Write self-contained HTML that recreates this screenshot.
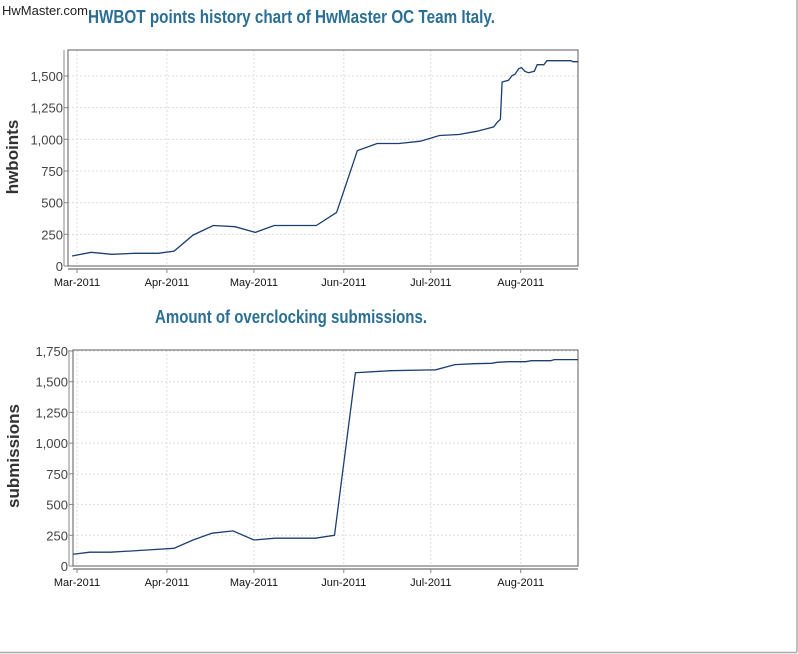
<!DOCTYPE html>
<html><head><meta charset="utf-8"><style>
html,body{margin:0;padding:0;background:#fff;}
#wrap{position:relative;width:798px;height:654px;overflow:hidden;font-family:"Liberation Sans",sans-serif;}
svg text{font-family:"Liberation Sans",sans-serif;}
</style></head><body>
<div id="wrap">
<svg id="svg" width="798" height="654" viewBox="0 0 798 654" xmlns="http://www.w3.org/2000/svg">
<line x1="797" y1="0" x2="797" y2="652" stroke="#aaa" stroke-width="1.5"/>
<line x1="0" y1="652.5" x2="797" y2="652.5" stroke="#aaa" stroke-width="1.5"/>
<text x="88" y="23" textLength="407" lengthAdjust="spacingAndGlyphs" font-size="18" font-weight="bold" fill="#2b6f94">HWBOT points history chart of HwMaster OC Team Italy.</text>
<text x="155" y="323" textLength="272" lengthAdjust="spacingAndGlyphs" font-size="18" font-weight="bold" fill="#2b6f94">Amount of overclocking submissions.</text>
<text x="2" y="15" textLength="86" lengthAdjust="spacingAndGlyphs" font-size="13" fill="#222">HwMaster.com</text>
<text transform="translate(18,157) rotate(-90)" text-anchor="middle" font-size="17" font-weight="bold" fill="#333">hwboints</text>
<text transform="translate(19,456) rotate(-90)" text-anchor="middle" font-size="17" font-weight="bold" fill="#333">submissions</text>
<g id="c1"></g><g id="c2"></g>
</svg>
</div>
<script>
const monthLabels = ["Mar-2011","Apr-2011","May-2011","Jun-2011","Jul-2011","Aug-2011"];
const monthDays = [0,31,61,92,122,153];
const pointsDays = [-1.7,4.9,12,20,28,33.5,40,47,54.5,61.5,68,82.5,89.5,96.7,103.5,111,118.4,125,131.7,138,143.7,145,146,146.6,148.8,150,151,152.3,153.3,154.4,155.7,157.7,158.7,161,162,170.3,171,174.3];
const pointsValues = [79,108,92,100,100,118,244,320,310,265,320,320,423,911,967,967,985,1030,1038,1064,1098,1137,1158,1453,1466,1503,1513,1558,1566,1537,1526,1537,1589,1589,1621,1621,1613,1613];
const pointsTicks = [0,250,500,750,1000,1250,1500];
const subsDays = [-1.6,4.4,11.6,24.8,33.4,40,46.6,53.8,61,68.3,82.2,88.8,96,108,120.4,123.7,130.3,137,142.9,144.9,148.8,154.7,156.7,163.3,164.6,174];
const subsValues = [95,112,112,131,144,212,267,286,212,226,226,250,1573,1590,1595,1597,1639,1647,1650,1658,1663,1663,1671,1671,1680,1680];
const subsTicks = [0,250,500,750,1000,1250,1500,1750];

const NS="http://www.w3.org/2000/svg";
function mk(parent,tag,attrs){const e=document.createElementNS(NS,tag);for(const k in attrs)e.setAttribute(k,attrs[k]);parent.appendChild(e);return e;}
function fmt(v){return v.toLocaleString("en-US");}

function drawChart(g,cfg,days,vals,ticks,prefix){
  const L=cfg.left,R=cfg.right,T=cfg.top,B=cfg.bottom;
  const xs=d=>77+d*2.9;
  const ys=v=>B-(v/cfg.max)*(B-cfg.maxY);
  const clip=mk(g,"clipPath",{id:prefix+"-clip"});
  mk(clip,"rect",{x:L,y:T,width:R-L,height:B-T});
  for(let i=0;i<ticks.length;i++){
    const y=ys(ticks[i]);
    const gl=mk(g,"line",{x1:L,x2:R,y1:y,y2:y,stroke:"#ddd","stroke-dasharray":"2,2"});
    
    
    const tk=mk(g,"line",{x1:L-4,x2:L,y1:y,y2:y,stroke:"#888"});
    
    
    const t=mk(g,"text",{x:L-5,y:y+5,"text-anchor":"end","font-size":"13",fill:"#444"});
    t.textContent=fmt(ticks[i]);
    
    
  }
  for(let i=0;i<monthDays.length;i++){
    const x=xs(monthDays[i]);
    const gl=mk(g,"line",{x1:x,x2:x,y1:T,y2:B,stroke:"#ddd","stroke-dasharray":"2,2"});
    
    
    const tk=mk(g,"line",{x1:x,x2:x,y1:B+3,y2:B+7,stroke:"#888"});
    
    
    const t=mk(g,"text",{x:x,y:B+20,"text-anchor":"middle","font-size":"11",fill:"#111"});
    t.textContent=monthLabels[i];
    
    
  }
  const box=mk(g,"rect",{x:L,y:T,width:R-L,height:B-T,fill:"none",stroke:"#777","stroke-width":"1.2"});
  
  
  const yl=mk(g,"line",{x1:L-4,x2:L-4,y1:T,y2:B,stroke:"#888"});
  
  
  const xl=mk(g,"line",{x1:L,x2:R,y1:B+3,y2:B+3,stroke:"#888","stroke-width":"1.5"});
  
  
  let d="";
  for(let i=0;i<days.length;i++){d+=(i?"L":"M")+xs(days[i]).toFixed(1)+","+ys(vals[i]).toFixed(1);}
  const p=mk(g,"path",{d:d,fill:"none",stroke:"#1b3f6e","stroke-width":"1.3","clip-path":"url(#"+prefix+"-clip)"});
  
  
}
drawChart(document.getElementById("c1"),{left:68,right:578,top:50,bottom:266,max:1500,maxY:76},pointsDays,pointsValues,pointsTicks,"chart1");
drawChart(document.getElementById("c2"),{left:73,right:578,top:350,bottom:566,max:1750,maxY:351},subsDays,subsValues,subsTicks,"chart2");
</script>
</body></html>
